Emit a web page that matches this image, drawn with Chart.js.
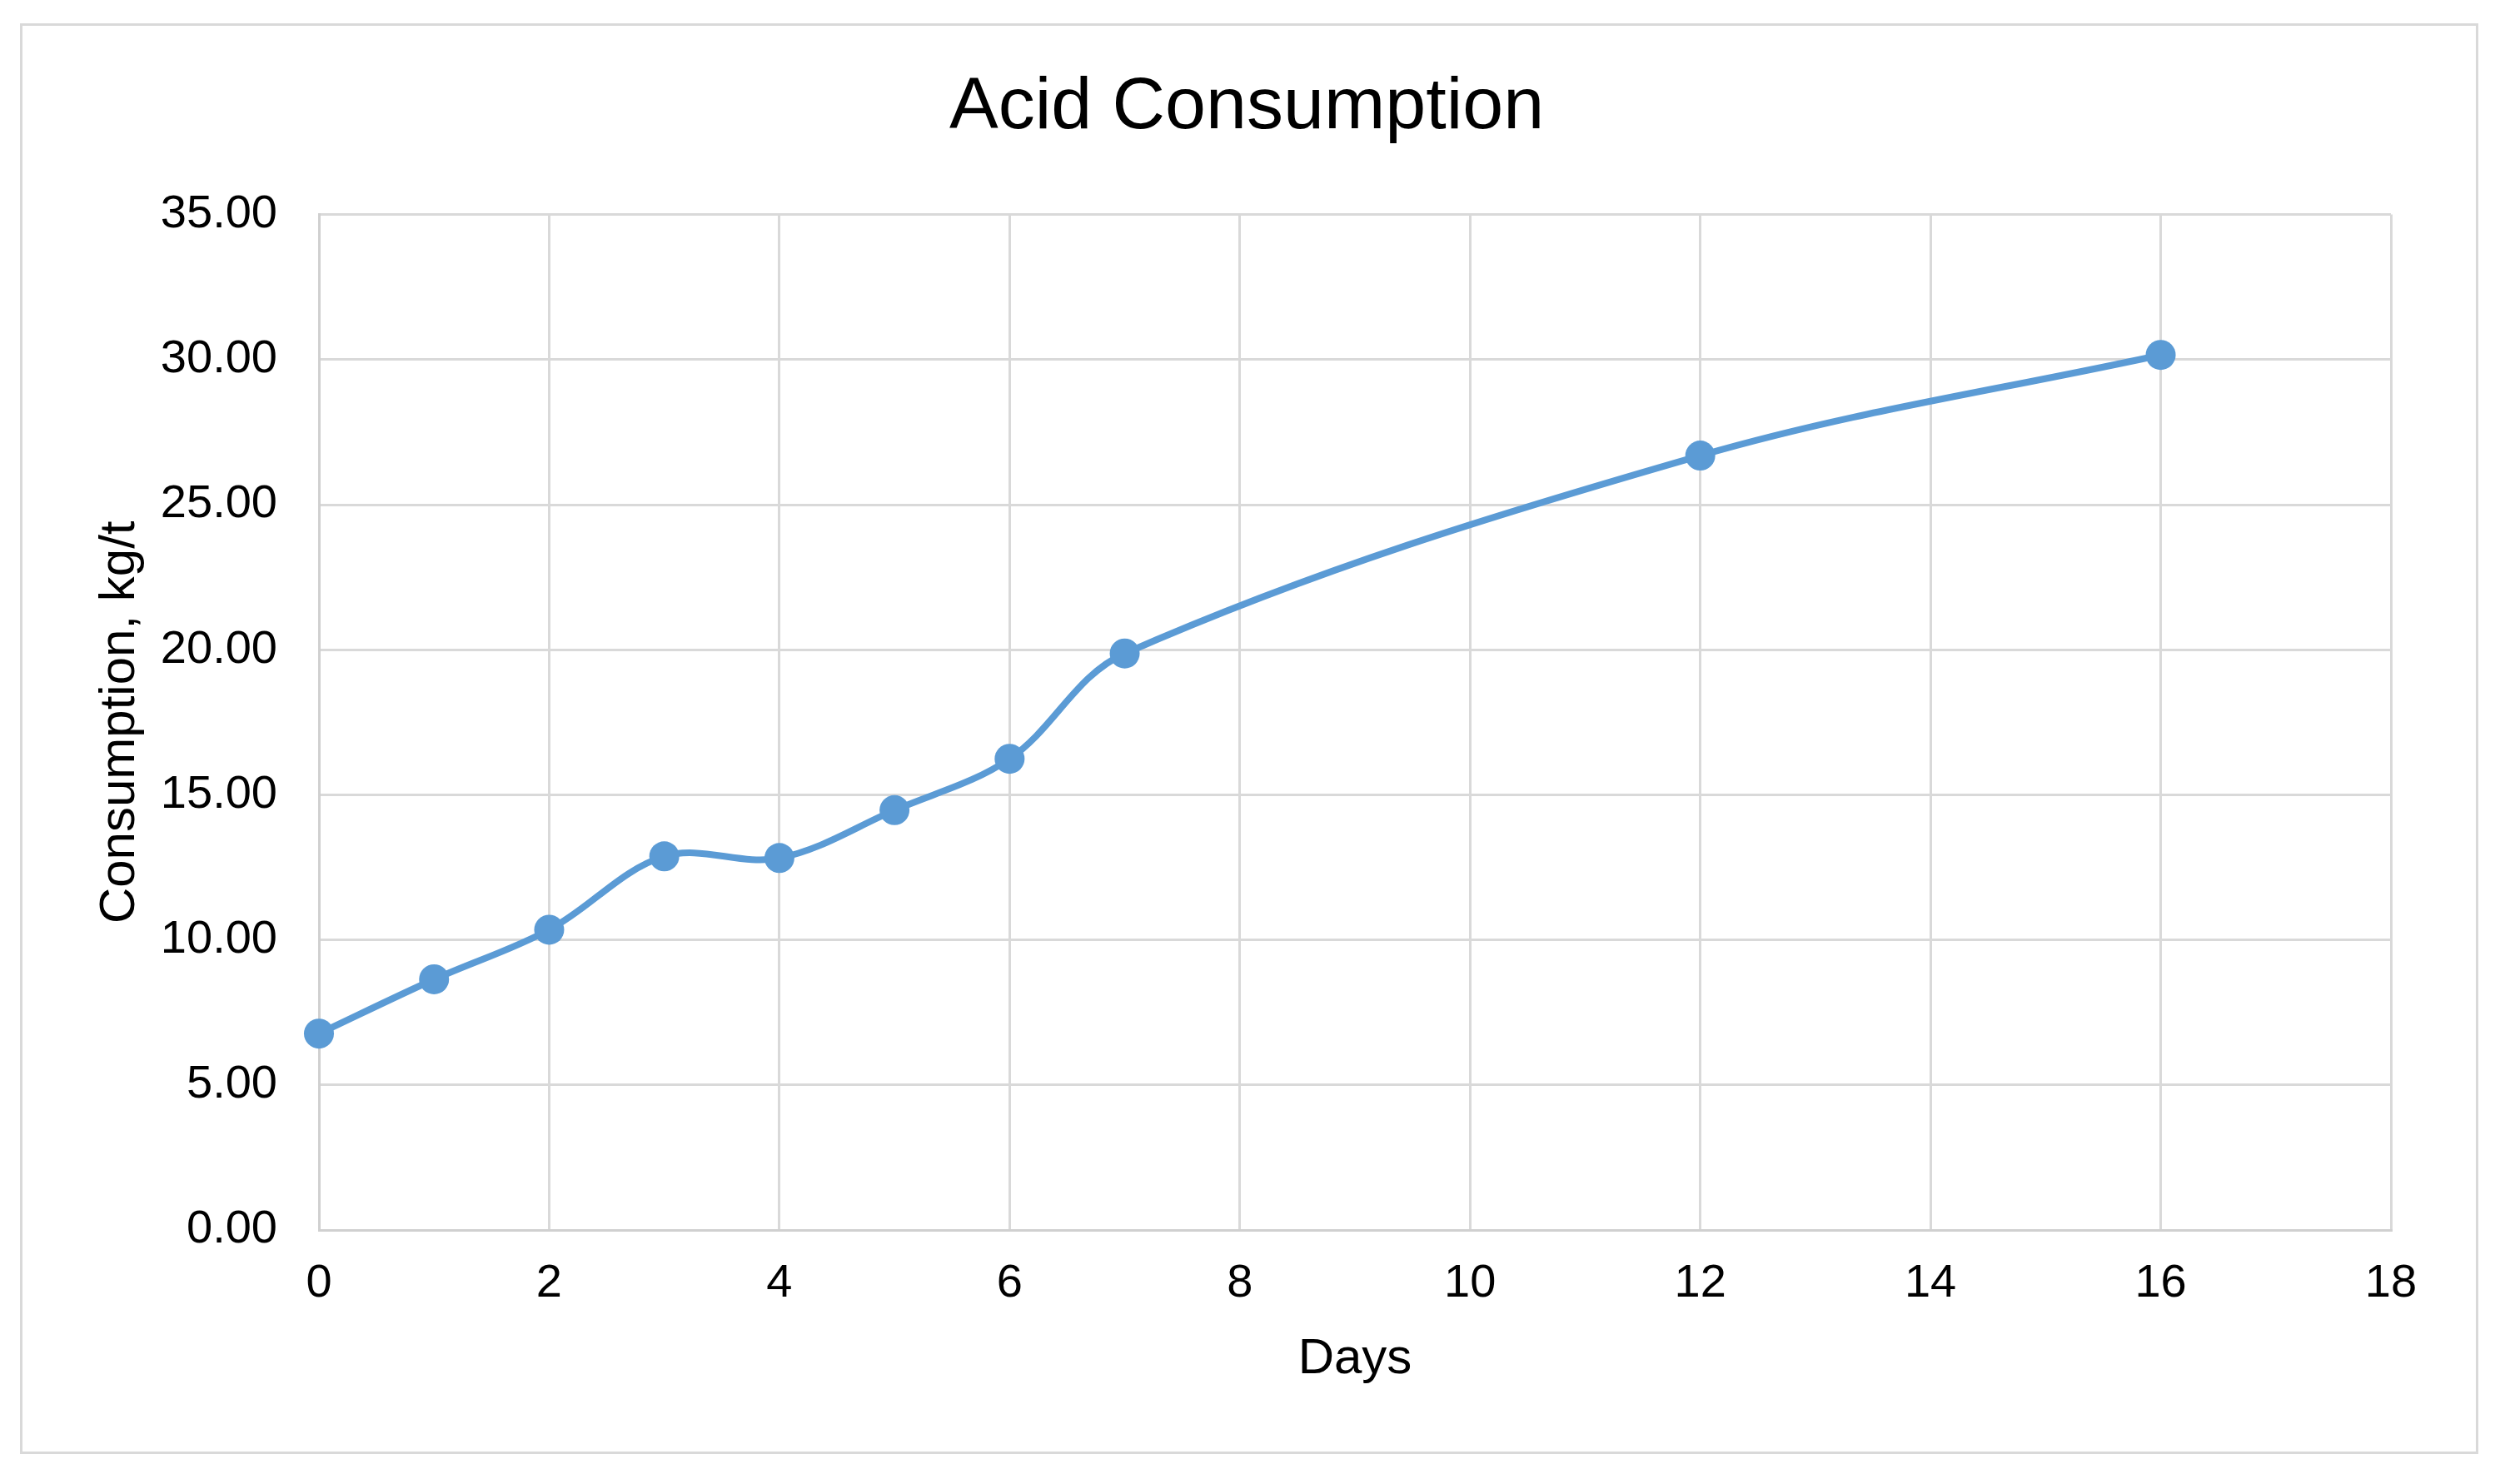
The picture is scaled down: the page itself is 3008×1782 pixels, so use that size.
<!DOCTYPE html>
<html>
<head>
<meta charset="utf-8">
<script src="https://cdn.jsdelivr.net/npm/chart.js@4.4.1/dist/chart.umd.min.js"></script>
<style>
  html, body { margin: 0; padding: 0; background: #fff; }
  #frame {
    position: absolute; left: 24px; top: 28px;
    width: 2952px; height: 1718px;
    border: 3px solid #d9d9d9; box-sizing: border-box;
  }
  #acid_chart { display: block; }
</style>
</head>
<body>
<div id="frame"><canvas id="acid_chart" width="2946" height="1712"></canvas></div>
<script>
// data
const days = [0, 1, 2, 3, 4, 5, 6, 7, 12, 16];
const consumption = [6.77, 8.64, 10.35, 12.88, 12.82, 14.47, 16.24, 19.87, 26.69, 30.16];
const xTicks = [0, 2, 4, 6, 8, 10, 12, 14, 16, 18];
const yTicks = [0, 5, 10, 15, 20, 25, 30, 35];

const FONT = "'Liberation Sans', Arial, sans-serif";
const points = days.map((d, i) => ({ x: d, y: consumption[i] }));

new Chart("acid_chart", {
    type: "line",
    data: {
        datasets: [{
            data: points,
            borderColor: "#5b9bd5",
            backgroundColor: "#5b9bd5",
            borderWidth: 8,
            pointRadius: 18,
            pointBorderWidth: 0,
            pointBackgroundColor: "#5b9bd5",
            tension: 0.35,
            fill: false,
            clip: false,
        }]
    },
    options: {
        responsive: false,
        animation: false,
        devicePixelRatio: 1,
        layout: {
            padding: { left: 96, right: 102, top: 0, bottom: 40 }
        },
        plugins: {
            legend: { display: false },
            tooltip: { enabled: false },
            title: {
                display: true,
                text: "Acid Consumption",
                color: "#000",
                font: { family: FONT, size: 88, weight: "normal", lineHeight: 1.2 },
                padding: { top: 46, bottom: 75 },
            },
        },
        scales: {
            x: {
                type: "linear",
                min: xTicks[0],
                max: xTicks[xTicks.length - 1],
                afterBuildTicks: (s) => { s.ticks = xTicks.map(v => ({ value: v })); },
                afterFit: (s) => { s.height = 226; },
                grid: { color: "#d9d9d9", lineWidth: 3, drawTicks: false },
                border: { color: "#d0d0d0", width: 3 },
                ticks: {
                    color: "#000",
                    padding: 31,
                    font: { family: FONT, size: 56 },
                },
                title: {
                    display: true,
                    text: "Days",
                    color: "#000",
                    font: { family: FONT, size: 60, lineHeight: 1.2 },
                    padding: { top: 0, bottom: 35 },
                },
            },
            y: {
                min: yTicks[0],
                max: yTicks[yTicks.length - 1],
                afterBuildTicks: (s) => { s.ticks = yTicks.map(v => ({ value: v })); },
                afterFit: (s) => { s.width = 260; },
                grid: { color: "#d9d9d9", lineWidth: 3, drawTicks: false },
                border: { color: "#d0d0d0", width: 3 },
                ticks: {
                    color: "#000",
                    padding: 50,
                    font: { family: FONT, size: 56 },
                    callback: (v) => Number(v).toFixed(2),
                },
                title: {
                    display: true,
                    text: "Consumption, kg/t",
                    color: "#000",
                    font: { family: FONT, size: 60, lineHeight: 1.2 },
                    padding: { top: -15, bottom: 0 },
                },
            },
        },
    },
});
</script>
</body>
</html>
